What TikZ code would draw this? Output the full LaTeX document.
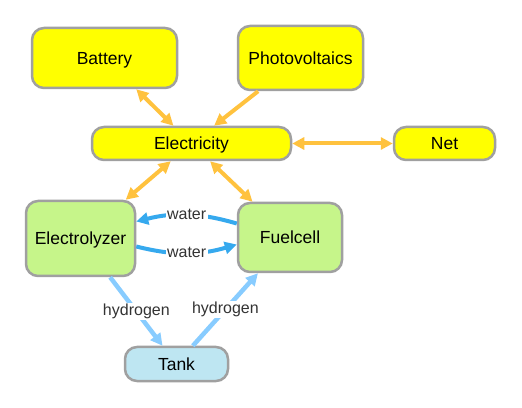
\documentclass[tikz,border=0pt]{standalone}
\usepackage{fontspec}
\setmainfont{Liberation Sans}
\usetikzlibrary{arrows.meta}
\definecolor{ybox}{HTML}{FFFF00}
\definecolor{gbox}{HTML}{C6F58A}
\definecolor{bbox}{HTML}{BEE6F2}
\definecolor{bordergray}{HTML}{A0A0A0}
\definecolor{orangearr}{HTML}{FFC23E}
\definecolor{waterarr}{HTML}{36A9EE}
\definecolor{hydroarr}{HTML}{88CCFF}
\definecolor{labelgray}{HTML}{333333}
\begin{document}
\begin{tikzpicture}[x=1pt,y=1pt,
  box/.style={draw=bordergray, line width=2.5pt, rounded corners=12pt, inner sep=0pt, text=black, font=\fontsize{17.5}{20}\selectfont, text height=12.6pt, text depth=0pt},
  tip/.tip={Triangle[length=12pt,width=12pt]},
  elec/.style={draw=orangearr, line width=4pt},
  water/.style={draw=waterarr, line width=4pt},
  hydro/.style={draw=hydroarr, line width=4.5pt},
  lbl/.style={fill=white, inner sep=1.5pt, text=labelgray, font=\fontsize{16}{18}\selectfont, text height=11.5pt, text depth=3pt}]
\useasboundingbox (0,0) rectangle (522,407);
\node[box, fill=ybox, minimum width=145pt, minimum height=60pt] (bat) at (104.5,349) {Battery};
\node[box, fill=ybox, minimum width=125pt, minimum height=64pt] (pv) at (300.5,349) {Photovoltaics};
\node[box, fill=ybox, minimum width=199pt, minimum height=33pt] (el) at (191.5,263.5) {Electricity};
\node[box, fill=ybox, minimum width=101pt, minimum height=33pt] (net) at (444.5,263.5) {Net};
\node[box, fill=gbox, minimum width=109pt, minimum height=75pt] (ez) at (80.5,168.5) {Electrolyzer};
\node[box, fill=gbox, minimum width=104pt, minimum height=69pt] (fc) at (290,169.5) {Fuelcell};
\node[box, fill=bbox, minimum width=103pt, minimum height=34pt] (tank) at (176.5,43) {Tank};
\draw[elec, tip-tip] (bat) -- (el);
\draw[elec, -tip] (pv) -- (el);
\draw[elec, tip-tip] (el) -- (net);
\draw[elec, tip-tip] (el) -- (ez);
\draw[elec, tip-tip] (el) -- (fc);
\draw[water, -tip] ([yshift=14pt]fc.west) to[bend right=15] node[lbl, midway] {water} ([yshift=17pt]ez.east);
\draw[water, -tip] ([yshift=-8pt]ez.east) to[bend right=15] node[lbl, midway] {water} ([yshift=-7pt]fc.west);
\draw[hydro, -tip] (ez) -- node[lbl, midway] {hydrogen} (tank);
\draw[hydro, -tip] (tank) -- node[lbl, midway] {hydrogen} (fc);
\end{tikzpicture}
\end{document}
